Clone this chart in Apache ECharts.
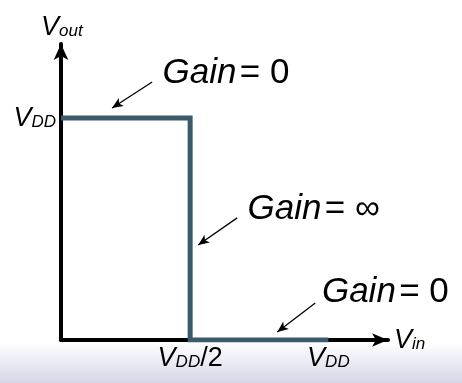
<!DOCTYPE html>
<html>
<head>
<meta charset="utf-8">
<script src="https://cdn.jsdelivr.net/npm/echarts@6/dist/echarts.min.js"></script>
<style>
  html, body { margin: 0; padding: 0; background: #fff; }
  #chart { width: 462px; height: 383px; }
</style>
</head>
<body>
<div id="chart"></div>
<script>
// transfer curve, VDD = 1
const vin = [0, 0.483, 0.483, 1];
const vout = [1, 1, 0, 0];

const xTicks = [0.483, 1];
const xTickLabels = ['{v|V}{s|DD}{n|/2}', '{v|V}{s|DD}'];
const yTicks = [1];
const yTickLabels = ['{v|V}{s|DD}'];

// annotations: [text, x, y] and arrows [x1, y1, x2, y2]
const gainLabels = [
  ['{g|Gain} {e|= 0}', 0.378, 1.203],
  ['{g|Gain} {e|= \u221e}', 0.696, 0.590],
  ['{g|Gain} {e|= 0}', 0.974, 0.216]
];
const gainArrows = [
  [0.341, 1.162, 0.191, 1.045],
  [0.659, 0.550, 0.513, 0.428],
  [0.951, 0.167, 0.809, 0.036]
];

const font = 'Liberation Sans, Arial, sans-serif';
const subRich = {
  v: { fontSize: 27, fontStyle: 'italic', fontFamily: font, color: '#000', lineHeight: 26, verticalAlign: 'top' },
  s: { fontSize: 17, fontStyle: 'italic', fontFamily: font, color: '#000', lineHeight: 17, verticalAlign: 'bottom', padding: [15, 0, 0, 0] },
  n: { fontSize: 27, fontFamily: font, color: '#000', lineHeight: 26, verticalAlign: 'top' }
};

const chart = echarts.init(document.getElementById('chart'));

chart.setOption({
  animation: false,
  backgroundColor: '#fff',
  graphic: [{
    type: 'rect',
    z: -10,
    shape: { x: 0, y: 342, width: 462, height: 41 },
    style: {
      fill: new echarts.graphic.LinearGradient(0, 0, 0, 1, [
        { offset: 0, color: '#ffffff' },
        { offset: 1, color: '#d6d6e8' }
      ])
    }
  }],
  grid: { left: 61, right: 74, top: 44, bottom: 43, containLabel: false },
  xAxis: {
    type: 'value',
    min: 0,
    max: 1.223,
    splitLine: { show: false },
    axisTick: { show: false },
    axisLine: {
      lineStyle: { color: '#000', width: 4 },
      symbol: ['none', 'arrow'],
      symbolSize: [10, 16]
    },
    axisLabel: {
      customValues: xTicks,
      margin: 5,
      formatter: (v) => xTickLabels[xTicks.indexOf(v)] || '',
      rich: subRich
    },
    name: '{v|V}{s|in}',
    nameLocation: 'end',
    nameGap: 6,
    nameTextStyle: { rich: subRich, align: 'left' }
  },
  yAxis: {
    type: 'value',
    min: 0,
    max: 1.333,
    splitLine: { show: false },
    axisTick: { show: false },
    axisLine: {
      lineStyle: { color: '#000', width: 4 },
      symbol: ['none', 'arrow'],
      symbolSize: [11, 16]
    },
    axisLabel: {
      customValues: yTicks,
      margin: 5,
      formatter: (v) => yTickLabels[yTicks.indexOf(v)] || '',
      rich: subRich
    },
    name: '{v|V}{s|out}',
    nameLocation: 'end',
    nameGap: 4,
    nameTextStyle: { rich: subRich, align: 'left', padding: [0, 0, 0, -20] }
  },
  series: [{
    type: 'line',
    data: vin.map((x, i) => [x, vout[i]]),
    symbol: 'none',
    lineStyle: { color: '#3b5a6b', width: 5, cap: 'butt', join: 'miter' },
    markLine: {
      silent: true,
      symbol: ['none', 'arrow'],
      symbolSize: [7, 11],
      label: { show: false },
      lineStyle: { color: '#000', width: 1.3, type: 'solid' },
      data: gainArrows.map(a => [{ coord: [a[0], a[1]] }, { coord: [a[2], a[3]] }])
    },
    markPoint: {
      silent: true,
      symbol: 'circle',
      symbolSize: 1,
      itemStyle: { color: 'rgba(0,0,0,0)' },
      label: {
        show: true,
        position: 'right',
        distance: 0,
        formatter: (p) => p.name,
        rich: {
          g: { fontSize: 35, fontStyle: 'italic', fontFamily: font, color: '#000' },
          e: { fontSize: 35, fontFamily: font, color: '#000' }
        }
      },
      data: gainLabels.map(g => ({ name: g[0], coord: [g[1], g[2]] }))
    }
  }]
});
</script>
</body>
</html>
